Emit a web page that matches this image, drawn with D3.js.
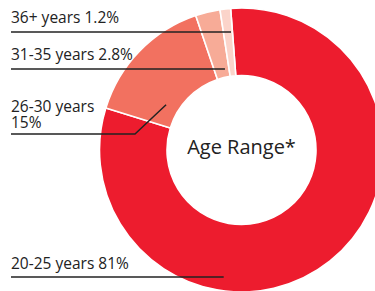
<!DOCTYPE html>
<html>
<head>
<meta charset="utf-8">
<script src="https://cdn.jsdelivr.net/npm/d3@7"></script>
<style>
  body { margin: 0; background: #fff; }
  svg { display: block; font-family: 'Open Sans', sans-serif; }
</style>
</head>
<body>
<svg width="375" height="291"></svg>
<script>
// chart data
const ageGroups = ['20-25 years', '26-30 years', '31-35 years', '36+ years'];
const shares = [81, 15, 2.8, 1.2];
const colors = ['#ed1c2e', '#f27160', '#f7ab97', '#fbd4ca'];
const centerTitle = 'Age Range*';

// label placement (text rows on the left, leader lines into the ring)
const labelLayout = [
  { lines: ['20-25 years 81%'], textY: 269, lineY: 277, angle: 188, r: 128 },
  { lines: ['26-30 years', '15%'], textY: 112, lineY: 134, angle: -59, r: 88, elbowX: 135 },
  { lines: ['31-35 years 2.8%'], textY: 60, lineY: 69, angle: -11.5, r: 83 },
  { lines: ['36+ years 1.2%'], textY: 23, lineY: 32, angle: -5.1, r: 118 }
];

const svg = d3.select('svg');
const cx = 241.5, cy = 150;
const outerR = 142, innerR = 74.5;
const rad = (deg) => (deg * Math.PI) / 180;

const pie = d3.pie()
  .sort(null)
  .value((d) => d)
  .startAngle(rad(-4.4))
  .endAngle(rad(-4.4) + 2 * Math.PI);

const arc = d3.arc().innerRadius(innerR).outerRadius(outerR);

const g = svg.append('g').attr('transform', `translate(${cx},${cy})`);

g.selectAll('path')
  .data(pie(shares))
  .enter()
  .append('path')
  .attr('d', arc)
  .attr('fill', (d, i) => colors[i])
  .attr('stroke', '#fff')
  .attr('stroke-width', 1.6);

// center title
g.append('text')
  .attr('x', 0)
  .attr('y', 4)
  .attr('text-anchor', 'middle')
  .attr('font-size', 20)
  .attr('fill', '#222')
  .text(centerTitle);

// labels + leader lines
const labelX = 11;
labelLayout.forEach((l) => {
  const [px, py] = d3.pointRadial(rad(l.angle), l.r);
  const endX = cx + px, endY = cy + py;
  const pts = l.elbowX
    ? [[labelX, l.lineY], [l.elbowX, l.lineY], [endX, endY]]
    : [[labelX, l.lineY], [endX, l.lineY]];
  svg.append('path')
    .attr('d', d3.line()(pts))
    .attr('fill', 'none')
    .attr('stroke', '#222')
    .attr('stroke-width', 1.5);

  // one text element per label, extra rows as tspans
  const txt = svg.append('text')
    .attr('x', labelX)
    .attr('y', l.textY)
    .attr('font-size', 15.5)
    .attr('fill', '#222');
  l.lines.forEach((t, j) => {
    txt.append('tspan')
      .attr('x', labelX)
      .attr('dy', j === 0 ? 0 : 15.5)
      .text(t);
  });
});
</script>
</body>
</html>
